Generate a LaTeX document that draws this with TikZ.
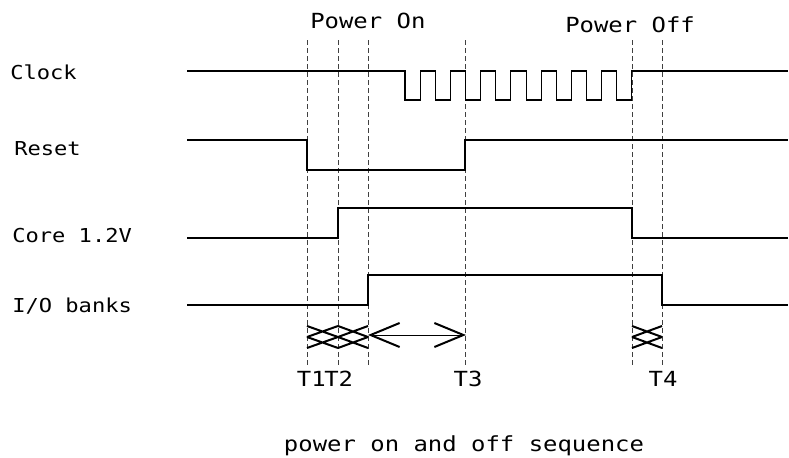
\documentclass[tikz,border=0pt]{standalone}
\usepackage{fontspec}
\newfontfamily\cadfont[FakeStretch=1.15]{DejaVu Sans Mono}
\usetikzlibrary{arrows.meta}
\tikzset{
  siglabel/.style={font=\cadfont\fontsize{14.4}{16}\selectfont,anchor=base west,inner sep=0pt},
  toplabel/.style={font=\cadfont\fontsize{15.6}{18}\selectfont,anchor=base west,inner sep=0pt},
  tlabel/.style={toplabel,anchor=base},
  guide/.style={draw=black!75,line width=0.6pt,dash pattern=on 4pt off 2pt},
  wave/.style={line width=1.6pt,line join=miter},
  clk/.style={line width=0.8pt},
  xcell/.style={line width=1.5pt},
  span/.style={line width=0.75pt,
    {Straight Barb[length=21.75pt,width=18pt,line width=1.5pt]}-{Straight Barb[length=21.75pt,width=18pt,line width=1.5pt]}},
}
\begin{document}
\begin{tikzpicture}[x=0.75pt,y=-0.75pt]
  \useasboundingbox (0,0) rectangle (789,457);
  % time marks
  \foreach \x in {307,338,368,465,632,662}{
    \draw[guide] (\x,40) -- (\x,365);
  }
  % signal names
  \node[siglabel] (clock) at (10,79) {Clock};
  \node[siglabel] (reset) at (14,155) {Reset};
  \node[siglabel] (core) at (12,242) {Core 1.2V};
  \node[siglabel] (iobank) at (12,312) {I/O banks};
  \node[toplabel] (pwron) at (310,28) {Power On};
  \node[toplabel] (pwroff) at (565,32) {Power Off};
  % waveforms
  \draw[clk] (187,71) -- (405,71)
    \foreach \i in {0,...,7}{ -- ++(0,29) -- ++(15.13,0) -- ++(0,-29) -- ++(15.13,0) } -- (788,71);
  \draw[wave] (187,140) -- (307,140) -- (307,170) -- (465,170) -- (465,140) -- (788,140);
  \draw[wave] (187,238) -- (338,238) -- (338,208) -- (632,208) -- (632,238) -- (788,238);
  \draw[wave] (187,305) -- (368,305) -- (368,275) -- (662,275) -- (662,305) -- (788,305);
  % transitions
  \foreach \a/\b in {307/338,338/368,632/662}{
    \draw[xcell] (\a,326) -- (\b,337) (\a,337) -- (\b,326) (\a,337) -- (\b,348) (\a,348) -- (\b,337);
  }
  \draw[span] (368,335) -- (466,335);
  \node[tlabel,anchor=base east] (T1) at (326,386) {T1};
  \node[tlabel,anchor=base west] (T2) at (324,386) {T2};
  \foreach \t/\x in {3/468,4/663}{
    \node[tlabel] (T\t) at (\x,386) {T\t};
  }
  \node[toplabel,anchor=base] (caption) at (464,451) {power on and off sequence};
\end{tikzpicture}
\end{document}
